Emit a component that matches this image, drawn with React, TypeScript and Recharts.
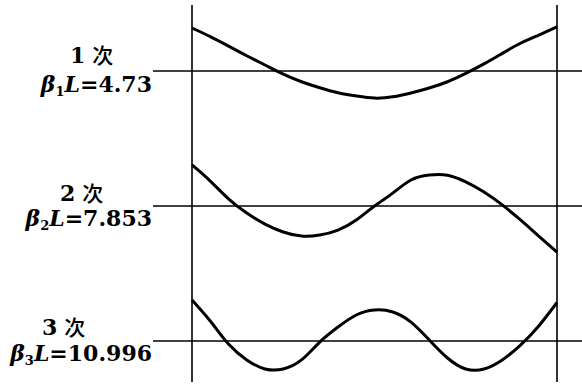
import React from 'react';
import { LineChart, Line, XAxis, YAxis, ReferenceLine } from 'recharts';

// Positions along the beam, x / L
const POSITIONS = [
  0, 0.05, 0.1, 0.15, 0.2, 0.25, 0.3, 0.35, 0.4, 0.45, 0.5,
  0.55, 0.6, 0.65, 0.7, 0.75, 0.8, 0.85, 0.9, 0.95, 1,
];

// Relative deflection of the free-free beam, one array per mode
const MODE1 = [
  2.0, 1.6, 1.16, 0.71, 0.28, -0.15, -0.5, -0.78, -1.01, -1.16, -1.26,
  -1.2, -1.02, -0.79, -0.5, -0.11, 0.33, 0.82, 1.29, 1.67, 2.05,
];
const MODE2 = [
  1.91, 1.16, 0.33, -0.33, -0.84, -1.21, -1.4, -1.35, -1.12, -0.65, 0,
  0.6, 1.21, 1.44, 1.43, 1.12, 0.65, 0.05, -0.65, -1.4, -2.14,
];
const MODE3 = [
  1.91, 0.93, -0.14, -0.88, -1.3, -1.3, -0.88, -0.05, 0.65, 1.21, 1.44,
  1.35, 0.88, 0.05, -0.79, -1.3, -1.3, -0.88, -0.19, 0.7, 1.79,
];

// Label texts
const ORDER_NUMBERS = ['1', '2', '3'];
const ORDER_WORD = '次';
const BETA_SUBSCRIPTS = ['1', '2', '3'];
const BETA_L_VALUES = ['4.73', '7.853', '10.996'];

const rows = POSITIONS.map((x, i) => ({
  x,
  m1: MODE1[i],
  m2: MODE2[i],
  m3: MODE3[i],
}));

// Layout (pixels)
const W = 582;
const H = 387;
const PLOT_TOP = 5;
const PLOT_BOTTOM = 382;
const PLOT_LEFT = 153;
const BEAM_LEFT = 192;
const BEAM_RIGHT = 557;
const PX_PER_UNIT = 21.5;
const BASELINES = [71, 206, 341];

const beamPx = BEAM_RIGHT - BEAM_LEFT;
const xDomain: [number, number] = [
  -(BEAM_LEFT - PLOT_LEFT) / beamPx,
  (W - BEAM_LEFT) / beamPx,
];
const yDomain = (base: number): [number, number] => [
  -(PLOT_BOTTOM - base) / PX_PER_UNIT,
  (base - PLOT_TOP) / PX_PER_UNIT,
];

const FONT = "'DejaVu Serif', 'Noto Sans CJK SC', serif";

function ModeLabel(props: any) {
  const { viewBox, idx, orderX, upper, lower } = props;
  const y = viewBox ? viewBox.y : 0;
  return (
    <g fontFamily={FONT} fontWeight="bold" fontSize={22} fill="#000">
      <text x={orderX} y={y + upper}>
        {ORDER_NUMBERS[idx]}
        <tspan dx={7} fontFamily="'Noto Sans CJK SC', sans-serif" fontWeight={500} fontSize={21}>
          {ORDER_WORD}
        </tspan>
      </text>
      <text x={152} y={y + lower} textAnchor="end">
        <tspan fontStyle="italic">β</tspan>
        <tspan fontSize={13} dy={4}>{BETA_SUBSCRIPTS[idx]}</tspan>
        <tspan fontStyle="italic" dy={-4}>L</tspan>
        <tspan>=</tspan>
        <tspan>{BETA_L_VALUES[idx]}</tspan>
      </text>
    </g>
  );
}

const LABEL_POS = [
  { orderX: 70, upper: -8, lower: 21 },
  { orderX: 60, upper: -5, lower: 20 },
  { orderX: 42, upper: -6, lower: 20 },
];

export default function App() {
  const ids = ['m1', 'm2', 'm3'];
  return (
    <div style={{ position: 'absolute', left: 0, top: 0, width: W, height: H, background: '#fff' }}>
      <LineChart
        width={W}
        height={H}
        data={rows}
        margin={{ top: PLOT_TOP, right: 0, bottom: H - PLOT_BOTTOM, left: PLOT_LEFT }}
      >
        <XAxis dataKey="x" type="number" domain={xDomain} hide allowDataOverflow />
        {ids.map((id, i) => (
          <YAxis key={id} yAxisId={id} type="number" domain={yDomain(BASELINES[i])} hide allowDataOverflow />
        ))}
        {ids.map((id, i) => (
          <ReferenceLine
            key={'base' + id}
            yAxisId={id}
            y={0}
            stroke="#000"
            strokeWidth={1.6}
            label={<ModeLabel idx={i} {...LABEL_POS[i]} />}
          />
        ))}
        <ReferenceLine yAxisId="m1" x={0} stroke="#000" strokeWidth={1.6} />
        <ReferenceLine yAxisId="m1" x={1} stroke="#000" strokeWidth={1.6} />
        {ids.map((id) => (
          <Line
            key={id}
            yAxisId={id}
            dataKey={id}
            type="natural"
            stroke="#000"
            strokeWidth={3}
            dot={false}
            isAnimationActive={false}
          />
        ))}
      </LineChart>
    </div>
  );
}
